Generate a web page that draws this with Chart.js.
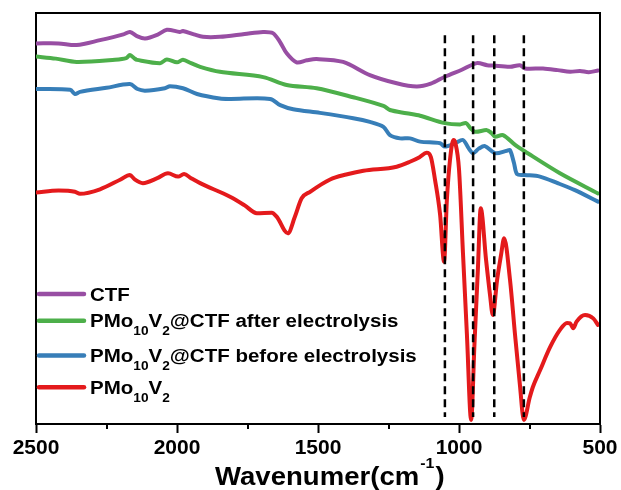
<!DOCTYPE html>
<html><head><meta charset="utf-8">
<script src="https://cdn.jsdelivr.net/npm/chart.js@4/dist/chart.umd.min.js"></script>
<style>html,body{margin:0;padding:0;background:#fff}canvas{display:block}</style>
</head><body>
<canvas id="c" width="621" height="490"></canvas>
<script>
// ---- data ----
const xTicks = [2500, 2000, 1500, 1000, 500];
const xMinorTicks = [2250, 1750, 1250, 750];
const dashWn = [1050, 950, 875, 770];
const dashRange = [94.6, 1.7];

const seriesNames = ['CTF', 'PMo_10V_2@CTF after electrolysis', 'PMo_10V_2@CTF before electrolysis', 'PMo_10V_2'];
const seriesColors = ['#984EA3', '#4DAF4A', '#377EB8', '#E41A1C'];

const ctfWn = [2500,2420,2356,2273,2190,2167,2140,2113,2070,2036,1990,1979,1940,1908,1848,1760,1695,1660,1635,1611,1576,1540,1505,1411,1316,1221,1150,1100,1050,990,937,900,879,819,784,766,702,650,606,571,540,507];
const ctfT  = [92.6,92.6,92.2,93.4,94.8,95.4,94.3,93.8,94.7,95.9,95.4,95.6,94.8,94.2,94.2,94.9,95.4,95.1,93.0,90.2,88.0,88.5,88.8,88.1,84.9,82.9,82.1,82.8,84.5,86.2,87.8,87.3,87.2,86.9,87.3,86.5,86.5,86.1,85.7,85.9,85.6,86.0];

const afterWn = [2500,2430,2356,2220,2180,2167,2150,2142,2060,2036,2000,1979,1950,1918,1848,1694,1611,1505,1375,1268,1245,1186,1138,1050,996,975,960,943,901,885,872,844,801,766,642,507];
const afterT  = [89.4,88.9,88.1,88.6,89.0,89.8,88.9,88.6,87.8,88.7,88.0,88.6,87.8,86.9,85.7,84.4,82.5,81.7,79.5,77.4,76.4,75.6,75.0,73.2,72.9,73.2,72.0,71.1,71.5,70.8,69.9,70.3,67.9,66.3,61.0,56.1];

const beforeWn = [2500,2379,2362,2344,2250,2167,2140,2113,2043,2025,1979,1929,1848,1812,1670,1634,1588,1493,1375,1316,1268,1245,1209,1174,1138,1067,1050,1014,986,965,950,930,908,872,830,819,805,794,766,713,650,589,507];
const beforeT  = [81.5,81.3,80.3,80.8,81.8,82.7,81.5,81.1,81.7,82.2,81.7,80.3,79.2,79.1,79.1,77.6,76.6,75.7,74.4,73.5,72.3,70.3,69.5,69.5,68.7,68.3,67.5,68.3,69.1,67.0,65.9,67.0,67.6,65.9,66.5,66.6,63.5,60.8,60.6,60.2,58.6,56.9,54.1];

const pomWn = [2500,2420,2362,2344,2273,2200,2167,2150,2121,2070,2032,1996,1975,1950,1918,1812,1760,1717,1664,1646,1607,1582,1558,1528,1457,1400,1339,1221,1174,1140,1115,1100,1085,1067,1053,1043,1032,1020,1013,1000,986,972,957,945,933,923,904,890,880,865,851,840,819,801,784,770,749,738,713,677,642,617,606,595,583,553,524,507];
const pomT  = [56.3,56.8,56.5,56.0,57.1,59.5,60.6,59.5,58.6,59.8,61.0,60.2,60.8,59.8,58.6,55.3,53.2,51.3,51.4,50.4,46.4,50.4,54.9,56.5,59.5,60.7,61.6,62.6,63.8,64.9,66.0,65.0,59.4,50.9,39.5,54.5,64.2,69.1,68.4,62.0,41.7,21.9,1.0,19.7,37.7,52.5,39.9,31.4,26.5,35.0,41.1,45.2,35.0,21.5,9.5,1.0,6.5,9.0,13.0,18.7,22.9,24.6,24.5,23.3,24.9,26.5,25.7,24.1];

// ---- build ----
const FONT = '"Liberation Sans", Arial, sans-serif';
const pts = (xs, ys) => xs.map((x, i) => ({x: x, y: ys[i]}));
const seriesData = [pts(ctfWn, ctfT), pts(afterWn, afterT), pts(beforeWn, beforeT), pts(pomWn, pomT)];

const datasets = [];
seriesData.forEach((d, i) => {
  const ds = {
    label: seriesNames[i], data: d, borderColor: seriesColors[i], backgroundColor: seriesColors[i],
    borderWidth: 4, pointRadius: 0, order: 4 - i,
    borderCapStyle: 'round', borderJoinStyle: 'round'
  };
  if (i === 3) ds.cubicInterpolationMode = 'monotone'; else ds.tension = 0.3;
  datasets.push(ds);
});
dashWn.forEach((w, i) => {
  datasets.push({
    label: 'dash' + i, data: [{x: w, y: dashRange[0]}, {x: w, y: dashRange[1]}],
    borderColor: '#000', borderWidth: 2.5, borderDash: [8, 5], pointRadius: 0, order: 0
  });
});

function drawRich(ctx, text, x, baseline, size, subSize, subDrop, sx) {
  ctx.save();
  ctx.translate(x, baseline);
  ctx.scale(sx, 1);
  let cx = 0;
  const parts = text.split(/(_\d+)/).filter(s => s.length);
  parts.forEach(p => {
    if (p[0] === '_') {
      ctx.font = 'bold ' + subSize + 'px ' + FONT;
      ctx.fillText(p.slice(1), cx, subDrop);
      cx += ctx.measureText(p.slice(1)).width;
    } else {
      ctx.font = 'bold ' + size + 'px ' + FONT;
      ctx.fillText(p, cx, 0);
      cx += ctx.measureText(p).width;
    }
  });
  ctx.restore();
}

const decor = {
  id: 'decor',
  afterDraw(chart) {
    const ctx = chart.ctx, a = chart.chartArea, xs = chart.scales.x;
    ctx.save();
    ctx.strokeStyle = '#000';
    ctx.lineWidth = 2;
    ctx.beginPath();
    ctx.moveTo(a.left, a.top); ctx.lineTo(a.right, a.top); ctx.lineTo(a.right, a.bottom);
    ctx.stroke();
    // minor ticks
    ctx.lineWidth = 2;
    xMinorTicks.forEach(v => {
      const px = Math.round(xs.getPixelForValue(v));
      ctx.beginPath(); ctx.moveTo(px, a.bottom); ctx.lineTo(px, a.bottom + 5); ctx.stroke();
    });
    // legend
    const rowY = [294, 320.7, 355.5, 387.3];
    ctx.fillStyle = '#000';
    ctx.textBaseline = 'alphabetic';
    seriesNames.forEach((n, i) => {
      ctx.strokeStyle = seriesColors[i];
      ctx.lineWidth = 4.5; ctx.lineCap = 'round';
      ctx.beginPath(); ctx.moveTo(39, rowY[i]); ctx.lineTo(84, rowY[i]); ctx.stroke();
      drawRich(ctx, n, 90, rowY[i] + 6.5, 18, 12, 8, 1.14);
    });
    // axis title
    ctx.save();
    ctx.translate(215, 485);
    ctx.scale(1.06, 1);
    ctx.font = 'bold 26px ' + FONT;
    let t1 = 'Wavenumer(cm';
    ctx.fillText(t1, 0, 0);
    let w = ctx.measureText(t1).width;
    ctx.font = 'bold 15px ' + FONT;
    ctx.fillText('-1', w + 1, -17);
    w += ctx.measureText('-1').width + 2;
    ctx.font = 'bold 26px ' + FONT;
    ctx.fillText(')', w, 0);
    ctx.restore();
    ctx.restore();
  }
};

new Chart(document.getElementById('c'), {
  type: 'line',
  data: {datasets: datasets},
  options: {
    responsive: false, animation: false,
    layout: {padding: {top: 13, right: 21, left: 0, bottom: 0}},
    plugins: {legend: {display: false}, tooltip: {enabled: false}},
    scales: {
      x: {
        type: 'linear', reverse: true, min: 500, max: 2500,
        afterBuildTicks: s => { s.ticks = xTicks.map(v => ({value: v})); },
        ticks: {color: '#000', font: {family: FONT, size: 21, weight: 'bold'}, padding: 3,
                maxRotation: 0, autoSkip: false, callback: v => String(v)},
        grid: {drawOnChartArea: false, drawTicks: true, tickLength: 9, tickWidth: 2, tickColor: '#000'},
        border: {display: true, color: '#000', width: 2},
        afterFit: s => { s.height = 66; }
      },
      y: {
        min: 0, max: 100,
        ticks: {display: false},
        grid: {drawOnChartArea: false, drawTicks: false},
        border: {display: true, color: '#000', width: 2},
        afterFit: s => { s.width = 36; }
      }
    }
  },
  plugins: [decor]
});
</script>
</body></html>
